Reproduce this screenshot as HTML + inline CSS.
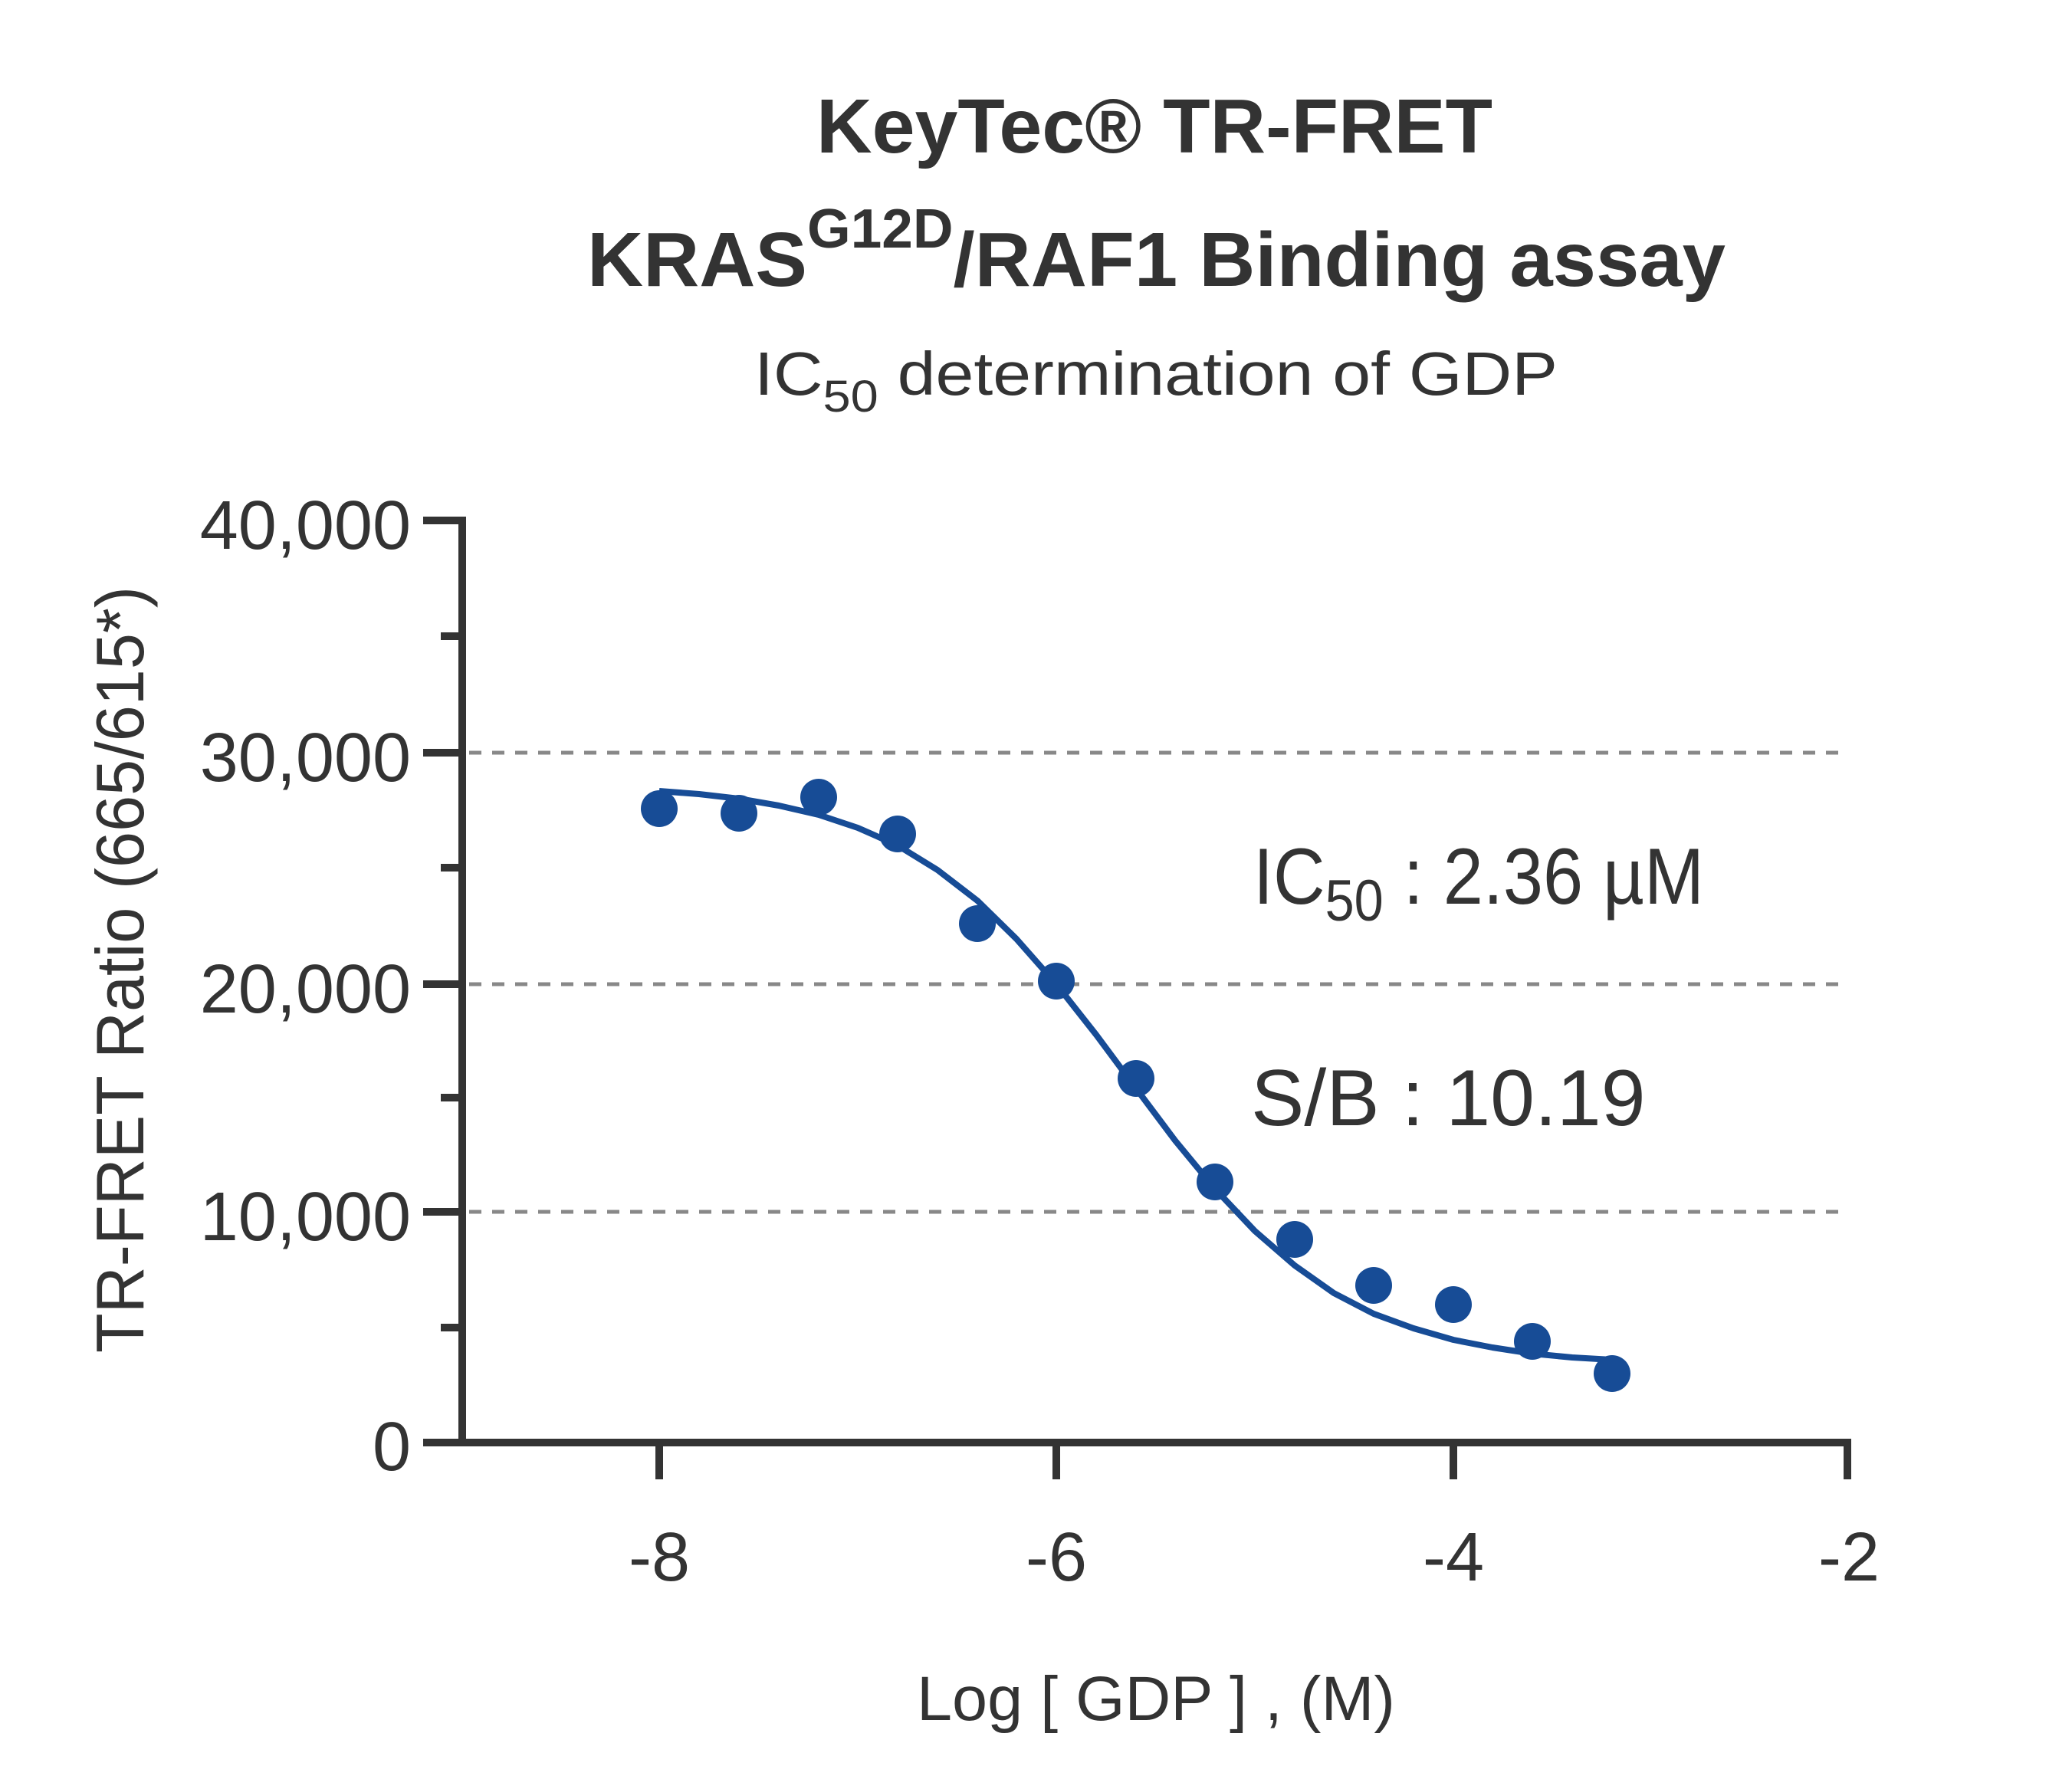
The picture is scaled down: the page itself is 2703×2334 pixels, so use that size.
<!DOCTYPE html>
<html><head><meta charset="utf-8"><style>html,body{margin:0;padding:0;background:#fff}svg{display:block}</style></head>
<body>
<svg width="2703" height="2334" viewBox="0 0 2703 2334" xmlns="http://www.w3.org/2000/svg" font-family="'Liberation Sans', 'DejaVu Sans', sans-serif" fill="#333">
<rect width="2703" height="2334" fill="#fff"/>
<text x="1506" y="199" font-size="100" font-weight="bold" text-anchor="middle" textLength="882" lengthAdjust="spacingAndGlyphs">KeyTec® TR-FRET</text>
<text x="766" y="373" font-size="100" font-weight="bold" textLength="1485" lengthAdjust="spacingAndGlyphs">KRAS<tspan dy="-50" font-size="72">G12D</tspan><tspan dy="50">/RAF1 Binding assay</tspan></text>
<text x="984" y="515" font-size="80" textLength="1048" lengthAdjust="spacingAndGlyphs">IC<tspan dy="22" font-size="58">50</tspan><tspan dy="-22"> determination of GDP</tspan></text>
<g stroke="#888" stroke-width="5" stroke-dasharray="16 14">
<line x1="612" y1="982" x2="2400" y2="982"/>
<line x1="612" y1="1284" x2="2400" y2="1284"/>
<line x1="612" y1="1581" x2="2400" y2="1581"/>
</g>
<g stroke="#333" stroke-width="10" fill="none">
<polyline points="552,679 603,679 603,1882 2410,1882 2410,1930"/>
<line x1="552" y1="982" x2="603" y2="982"/>
<line x1="552" y1="1284" x2="603" y2="1284"/>
<line x1="552" y1="1581" x2="603" y2="1581"/>
<line x1="552" y1="1882" x2="603" y2="1882"/>
<line x1="575" y1="830" x2="603" y2="830"/>
<line x1="575" y1="1132" x2="603" y2="1132"/>
<line x1="575" y1="1432" x2="603" y2="1432"/>
<line x1="575" y1="1732" x2="603" y2="1732"/>
<line x1="860" y1="1882" x2="860" y2="1930"/>
<line x1="1378" y1="1882" x2="1378" y2="1930"/>
<line x1="1896" y1="1882" x2="1896" y2="1930"/>
</g>
<g font-size="90" text-anchor="end">
<text x="536" y="716">40,000</text>
<text x="536" y="1019">30,000</text>
<text x="536" y="1321">20,000</text>
<text x="536" y="1618">10,000</text>
<text x="536" y="1918">0</text>
</g>
<g font-size="90" text-anchor="middle">
<text x="860" y="2062">-8</text>
<text x="1378" y="2062">-6</text>
<text x="1896" y="2062">-4</text>
<text x="2412" y="2062">-2</text>
</g>
<text x="1508" y="2244" font-size="82" text-anchor="middle" textLength="624" lengthAdjust="spacingAndGlyphs">Log [ GDP ] , (M)</text>
<text transform="translate(187,1265) rotate(-90)" font-size="88" text-anchor="middle" textLength="1000" lengthAdjust="spacingAndGlyphs">TR-FRET Ratio (665/615*)</text>
<text x="1635" y="1179" font-size="104" textLength="588" lengthAdjust="spacingAndGlyphs">IC<tspan dy="22" font-size="76">50</tspan><tspan dy="-22"> : 2.36 µM</tspan></text>
<text x="1632" y="1468" font-size="104">S/B : 10.19</text>
<polyline fill="none" stroke="#174c96" stroke-width="8" stroke-linejoin="round" stroke-linecap="butt" points="860,1032 912,1036 964,1042 1016,1051 1068,1063 1119,1080 1171,1103 1223,1135 1275,1175 1326,1225 1378,1284 1430,1350 1482,1420 1533,1488 1585,1551 1637,1606 1689,1651 1740,1687 1792,1714 1844,1733 1896,1748 1947,1758 1999,1766 2051,1771 2103,1774"/>
<g fill="#174c96">
<circle cx="860" cy="1055" r="24"/>
<circle cx="964" cy="1061" r="24"/>
<circle cx="1068" cy="1040" r="24"/>
<circle cx="1171" cy="1088" r="24"/>
<circle cx="1275" cy="1205" r="24"/>
<circle cx="1378" cy="1280" r="24"/>
<circle cx="1482" cy="1407" r="24"/>
<circle cx="1585" cy="1542" r="24"/>
<circle cx="1689" cy="1617" r="24"/>
<circle cx="1792" cy="1677" r="24"/>
<circle cx="1896" cy="1702" r="24"/>
<circle cx="1999" cy="1750" r="24"/>
<circle cx="2103" cy="1792" r="24"/>
</g>
</svg>
</body></html>
